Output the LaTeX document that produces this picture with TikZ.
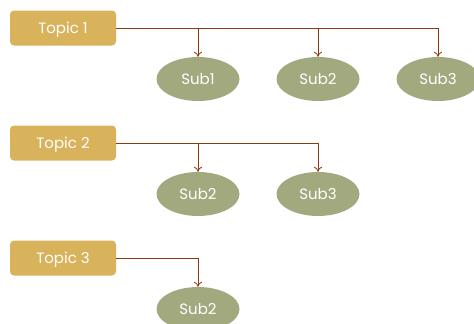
\documentclass[tikz,border=0pt]{standalone}
\usepackage{fontspec}
\setmainfont{Poppins}
\definecolor{topicgold}{RGB}{217,178,92}
\definecolor{subgreen}{RGB}{163,169,126}
\definecolor{linkbrown}{RGB}{139,58,15}
\tikzset{
  topic/.style={fill=topicgold, rounded corners=4pt, minimum width=106pt, minimum height=35pt, text depth=0pt, text=white, font=\fontsize{15}{17}\selectfont},
  sub/.style={ellipse, fill=subgreen, minimum width=83pt, minimum height=44pt, text depth=0pt, text=white, font=\fontsize{15}{17}\selectfont},
  link/.style={draw=linkbrown, line width=0.8pt, ->, >={To[length=5pt, width=8pt]}}
}
\usetikzlibrary{shapes.geometric, arrows.meta}
\begin{document}
\begin{tikzpicture}[x=1pt, y=-1pt]
\useasboundingbox (0,0) rectangle (474,324);

\node[topic] (t1) at (63,28) {Topic 1};
\node[topic] (t2) at (63,143) {Topic 2};
\node[topic] (t3) at (63,258) {Topic 3};

\node[sub] (s11) at (198,79) {Sub1};
\node[sub] (s12) at (318,79) {Sub2};
\node[sub] (s13) at (438,79) {Sub3};

\node[sub] (s22) at (198,194) {Sub2};
\node[sub] (s23) at (318,194) {Sub3};

\node[sub] (s32) at (198,309) {Sub2};

\draw[link] (t1.east) -| (s11.north);
\draw[link] (t1.east) -| (s12.north);
\draw[link] (t1.east) -| (s13.north);

\draw[link] (t2.east) -| (s22.north);
\draw[link] (t2.east) -| (s23.north);

\draw[link] (t3.east) -| (s32.north);

\end{tikzpicture}
\end{document}
